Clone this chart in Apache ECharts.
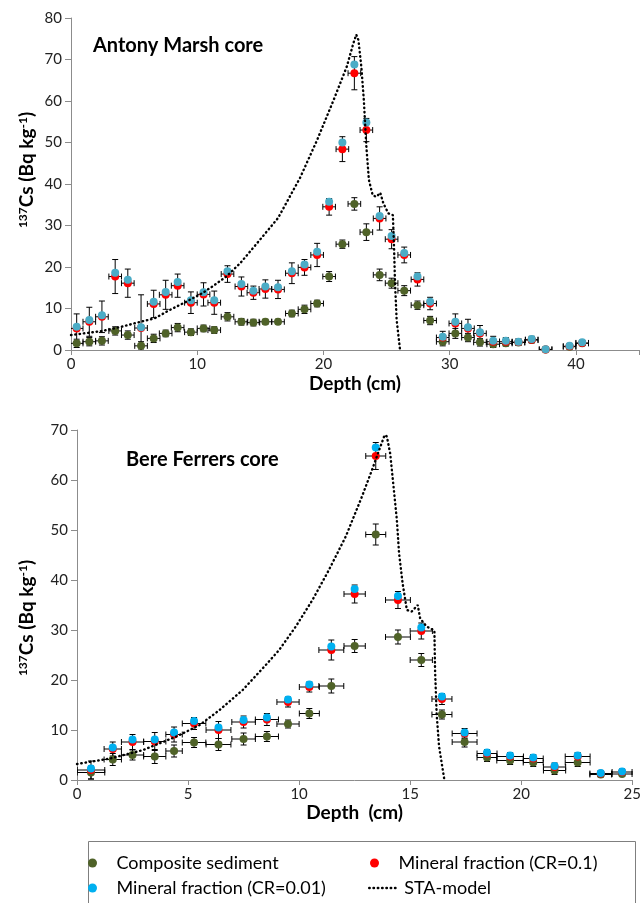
<!DOCTYPE html>
<html>
<head>
<meta charset="utf-8">
<script src="https://cdn.jsdelivr.net/npm/echarts@6/dist/echarts.min.js"></script>
<style>
  html, body { margin: 0; padding: 0; background: #fff; }
  #chart { width: 644px; height: 903px; }
</style>
</head>
<body>
<div id="chart"></div>
<script>
// ---- Antony Marsh core ----
const depthA = [0.45,1.45,2.45,3.5,4.5,5.55,6.55,7.5,8.45,9.5,10.5,11.35,12.4,13.5,14.45,15.4,16.4,17.5,18.5,19.5,
                20.45,21.5,22.45,23.4,24.45,25.4,26.4,27.45,28.45,29.45,30.45,31.45,32.4,33.45,34.45,35.45,36.5,37.6,39.5,40.5];
const compositeA = [1.6,2.0,2.2,4.6,3.6,1.0,2.8,4.0,5.4,4.3,5.2,4.8,8.0,6.8,6.6,6.8,6.8,8.8,9.8,11.2,
                    17.7,25.5,35.2,28.4,18.1,16.1,14.3,10.8,7.1,2.0,4.0,3.0,1.85,1.4,1.6,1.8,2.4,0.15,0.8,1.6];
const compositeErrA = [1.0,1.0,1.0,1.0,1.0,1.0,1.0,0.8,1.0,0.8,0.8,0.8,1.0,0.8,0.8,0.6,0.6,0.8,1.0,0.8,
                       1.2,1.0,1.5,2.0,1.4,1.2,1.2,1.0,1.0,1.0,1.2,1.0,0.9,0.8,0.6,0.6,0.6,0.5,0.5,0.5];
const mineral01A = [5.2,6.8,8.0,17.7,16.1,5.3,11.1,13.3,15.5,11.4,13.4,11.4,18.3,15.3,13.8,14.7,14.6,18.5,19.9,22.9,
                    34.5,48.4,66.7,53.0,31.7,26.7,22.9,17.0,11.2,3.0,6.4,5.2,4.0,2.0,2.0,1.9,2.5,0.1,0.9,1.7];
const mineral01ErrA = [3.5,3.5,3.8,4.1,3.4,8.0,3.3,3.5,2.8,2.6,2.8,2.8,2.0,2.3,1.6,2.2,2.2,2.5,1.9,2.8,
                       2.0,3.0,4.0,2.8,2.8,2.3,1.9,1.6,1.5,1.5,2.3,2.2,1.9,1.3,1.0,0.8,0.8,0.5,0.6,0.6];
const mineral001A = [5.6,7.2,8.4,18.6,16.9,5.5,11.6,14.0,16.4,12.0,13.9,12.0,19.0,15.9,14.3,15.3,15.1,19.0,20.6,23.7,
                     35.7,50.0,68.8,54.8,32.3,27.5,23.4,17.7,11.6,3.2,6.8,5.5,4.3,2.2,2.2,2.0,2.65,0.2,1.0,1.85];
const sliceHalfA = 0.5;
const staDepthA = [0,1.5,2.5,4,5.5,6.6,7.8,9.1,10.4,11.2,12.3,13.4,14.4,15.5,16.4,16.8,18.15,19.5,20.8,21.85,
                   22.37,22.6,22.77,23.0,23.2,23.4,23.6,23.9,24.2,24.5,24.75,25.15,25.5,25.6,25.67,25.8,26.07];
const staValueA = [3.6,4.2,4.6,5.6,6.8,7.6,9.6,11.6,13.7,15.3,17.7,20.9,24.5,28.5,31.8,34.0,41.5,50.6,60.2,68.3,
                   73.9,76.0,74.7,68.3,60.2,49.0,41.0,37.3,36.9,37.9,35.3,32.9,32.5,24.1,16.1,7.2,0];

// ---- Bere Ferrers core ----
const depthB = [0.63,1.61,2.5,3.5,4.37,5.27,6.37,7.5,8.55,9.5,10.46,11.45,12.5,13.45,14.45,15.5,16.43,17.45,
                18.46,19.5,20.54,21.5,22.54,23.58,24.54];
const sliceHalfB = [0.62,0.39,0.5,0.5,0.37,0.53,0.56,0.53,0.52,0.5,0.45,0.56,0.48,0.45,0.56,0.5,0.45,0.56,
                    0.45,0.6,0.45,0.5,0.56,0.49,0.45];
const compositeB = [1.5,4.1,5.0,4.7,5.8,7.5,7.1,8.2,8.7,11.2,13.3,18.8,26.8,49.1,28.6,24.0,13.1,7.6,
                    4.5,3.9,3.5,1.9,3.5,1.1,1.2];
const compositeErrB = [1.3,1.2,1.0,1.4,1.2,1.0,1.2,1.2,1.0,0.8,1.0,1.4,1.3,2.1,1.4,1.3,0.9,1.0,
                       0.8,0.8,0.8,0.8,0.8,0.5,0.5];
const mineral01B = [2.0,6.2,7.6,7.7,9.1,11.3,10.0,11.6,12.1,15.6,18.6,26.0,37.2,64.8,36.0,29.8,16.2,9.3,
                    5.3,4.7,4.3,2.6,4.7,1.3,1.6];
const mineral01ErrB = [1.8,1.4,1.5,1.8,1.5,1.2,1.7,1.2,1.2,1.0,1.0,2.0,1.8,2.7,1.7,1.6,1.1,1.0,
                       0.8,0.8,0.8,0.8,0.8,0.6,0.6];
const mineral001B = [2.3,6.5,8.1,8.1,9.5,11.8,10.5,12.0,12.5,16.1,19.1,26.7,38.2,66.5,36.8,30.5,16.7,9.5,
                     5.5,4.9,4.5,2.8,4.9,1.4,1.7];
const staDepthB = [0,1.49,2.98,4.48,5.52,6.42,7.46,8.5,9.1,9.85,10.6,11.34,12.1,12.83,13.28,13.58,13.85,13.95,
                   14.1,14.25,14.4,14.5,14.66,14.85,15.07,15.34,15.45,15.74,16.09,16.12,16.19,16.3,16.54];
const staValueB = [3.2,4.3,6.0,8.7,11.0,14.0,18.0,23.0,26.0,30.7,36.0,42.0,48.7,56.7,62.0,65.7,69.0,68.7,
                   65.3,58.7,52.0,45.3,39.3,34.0,33.7,35.0,32.3,30.7,29.9,22.0,13.3,6.7,0];

// ---- axis ticks ----
const xTicksA = { min: 0, max: 45, interval: 10 };
const yTicksA = { min: 0, max: 80, interval: 10 };
const xTicksB = { min: 0, max: 25, interval: 5 };
const yTicksB = { min: 0, max: 70, interval: 10 };

// ---- names ----
const nameComposite = 'Composite sediment';
const nameMin01 = 'Mineral fraction (CR=0.1)';
const nameMin001 = 'Mineral fraction (CR=0.01)';
const nameSTA = 'STA-model';

const FONT = 'Lato, "Noto Sans", sans-serif';
const GREEN = '#4F6228', RED = '#FF0000', AQUA = '#4BACC6', SKY = '#00B0F0';
const AXIS_GREY = '#8C8C8C';

function pairs(xs, ys) { return xs.map((x, i) => [x, ys[i]]); }
function withErrors(xs, ys, xe, ye) {
  return xs.map((x, i) => [x, ys[i], Array.isArray(xe) ? xe[i] : xe, ye[i]]);
}

// Draws horizontal (depth slice) and vertical (activity uncertainty) error bars with caps
function renderErrorBar(params, api) {
  const x = api.value(0), y = api.value(1), dx = api.value(2), dy = api.value(3);
  const p = api.coord([x, y]);
  const left = api.coord([x - dx, y])[0], right = api.coord([x + dx, y])[0];
  const top = api.coord([x, y + dy])[1], bottom = api.coord([x, y - dy])[1];
  const cap = 3;
  const style = { stroke: '#000', lineWidth: 1, fill: null };
  const seg = (x1, y1, x2, y2) => ({ type: 'line', shape: { x1, y1, x2, y2 }, style });
  return {
    type: 'group',
    children: [
      seg(left, p[1], right, p[1]),
      seg(left, p[1] - cap, left, p[1] + cap),
      seg(right, p[1] - cap, right, p[1] + cap),
      seg(p[0], top, p[0], bottom),
      seg(p[0] - cap, top, p[0] + cap, top),
      seg(p[0] - cap, bottom, p[0] + cap, bottom)
    ]
  };
}

function errorSeries(idx, data) {
  return {
    type: 'custom', xAxisIndex: idx, yAxisIndex: idx, renderItem: renderErrorBar,
    data, encode: { x: 0, y: 1 }, clip: true, silent: true, z: 2
  };
}
function pointSeries(idx, name, data, color, size, z) {
  return {
    type: 'scatter', name, xAxisIndex: idx, yAxisIndex: idx, data,
    symbol: 'circle', symbolSize: size, itemStyle: { color, opacity: 1 }, z, silent: true
  };
}
const STA_LINE = { color: '#000', width: 2.4, type: [0.5, 3.8], cap: 'round' };
function staSeries(idx, data) {
  return {
    type: 'line', name: nameSTA, xAxisIndex: idx, yAxisIndex: idx, data,
    symbol: 'none', showSymbol: false, smooth: false, z: 6, silent: true,
    lineStyle: STA_LINE
  };
}

function xAxisOf(idx, ticks, name, gap) {
  return {
    type: 'value', gridIndex: idx, min: ticks.min, max: ticks.max, interval: ticks.interval,
    axisLine: { show: true, lineStyle: { color: AXIS_GREY, width: 1 } },
    axisTick: { show: true, inside: false, length: 5, lineStyle: { color: AXIS_GREY } },
    splitLine: { show: false },
    axisLabel: {
      fontSize: 15, color: '#222', fontFamily: FONT, margin: 7,
      formatter: v => (v % ticks.interval === 0 ? String(v) : '')
    },
    name, nameLocation: 'middle', nameGap: gap,
    nameTextStyle: { fontSize: 19, fontWeight: 'bold', color: '#000', fontFamily: FONT }
  };
}
function yAxisOf(idx, ticks) {
  return {
    type: 'value', gridIndex: idx, min: ticks.min, max: ticks.max, interval: ticks.interval,
    axisLine: { show: true, lineStyle: { color: AXIS_GREY, width: 1 } },
    axisTick: { show: true, inside: false, length: 6, lineStyle: { color: AXIS_GREY } },
    splitLine: { show: false },
    axisLabel: { fontSize: 15, color: '#222', fontFamily: FONT, margin: 9 }
  };
}

const yTitleRich = {
  b: { fontSize: 19, fontWeight: 'bold', fontFamily: FONT, fill: '#000' },
  s: { fontSize: 12, fontWeight: 'bold', fontFamily: FONT, fill: '#000', verticalAlign: 'top' }
};
const yTitleText = '{s|137}{b|Cs (Bq kg}{s|-1}{b|)}';

function legendOf(item, left, top, width) {
  return {
    data: [item], left, top, padding: 0, itemWidth: width, itemHeight: 9,
    selectedMode: false, orient: 'horizontal',
    textStyle: { fontSize: 18, color: '#000', fontFamily: FONT }
  };
}
const dotItem = (name, color) => ({ name, icon: 'circle', itemStyle: { color } });

const chart = echarts.init(document.getElementById('chart'), null, { renderer: 'canvas' });
chart.setOption({
  animation: false,
  backgroundColor: '#fff',
  grid: [
    { left: 71, top: 18, width: 568, height: 332 },
    { left: 77, top: 430, width: 558, height: 350 }
  ],
  xAxis: [xAxisOf(0, xTicksA, 'Depth (cm)', 24), xAxisOf(1, xTicksB, 'Depth  (cm)', 22)],
  yAxis: [yAxisOf(0, yTicksA), yAxisOf(1, yTicksB)],
  legend: [
    legendOf(dotItem(nameComposite, GREEN), 88, 854, 38),
    legendOf(dotItem(nameMin01, RED), 370, 854, 38),
    legendOf(dotItem(nameMin001, SKY), 88, 879, 38),
    legendOf({ name: nameSTA, itemStyle: { opacity: 0 }, lineStyle: STA_LINE }, 368, 879, 30)
  ],
  graphic: [
    { type: 'text', x: 93, y: 46, style: { text: 'Antony Marsh core', fontSize: 20, fontWeight: 'bold', fontFamily: FONT, fill: '#000', verticalAlign: 'middle' } },
    { type: 'text', x: 126, y: 460, style: { text: 'Bere Ferrers core', fontSize: 20, fontWeight: 'bold', fontFamily: FONT, fill: '#000', verticalAlign: 'middle' } },
    { type: 'text', x: 27, y: 170, rotation: Math.PI / 2, style: { text: yTitleText, rich: yTitleRich, align: 'center', verticalAlign: 'middle' } },
    { type: 'text', x: 27, y: 618, rotation: Math.PI / 2, style: { text: yTitleText, rich: yTitleRich, align: 'center', verticalAlign: 'middle' } },
    { type: 'rect', shape: { x: 88.5, y: 841.5, width: 547, height: 80 }, style: { fill: 'none', stroke: '#7F7F7F', lineWidth: 1 }, z: 0 }
  ],
  series: [
    // Antony Marsh
    errorSeries(0, withErrors(depthA, compositeA, sliceHalfA, compositeErrA)),
    errorSeries(0, withErrors(depthA, mineral01A, sliceHalfA, mineral01ErrA)),
    pointSeries(0, nameComposite, pairs(depthA, compositeA), GREEN, 8, 3),
    pointSeries(0, nameMin01, pairs(depthA, mineral01A), RED, 8, 4),
    pointSeries(0, nameMin001, pairs(depthA, mineral001A), AQUA, 8, 5),
    staSeries(0, pairs(staDepthA, staValueA)),
    // Bere Ferrers
    errorSeries(1, withErrors(depthB, compositeB, sliceHalfB, compositeErrB)),
    errorSeries(1, withErrors(depthB, mineral01B, sliceHalfB, mineral01ErrB)),
    pointSeries(1, nameComposite, pairs(depthB, compositeB), GREEN, 8, 3),
    pointSeries(1, nameMin01, pairs(depthB, mineral01B), RED, 8, 4),
    pointSeries(1, nameMin001, pairs(depthB, mineral001B), SKY, 8, 5),
    staSeries(1, pairs(staDepthB, staValueB))
  ]
});
</script>
</body>
</html>
